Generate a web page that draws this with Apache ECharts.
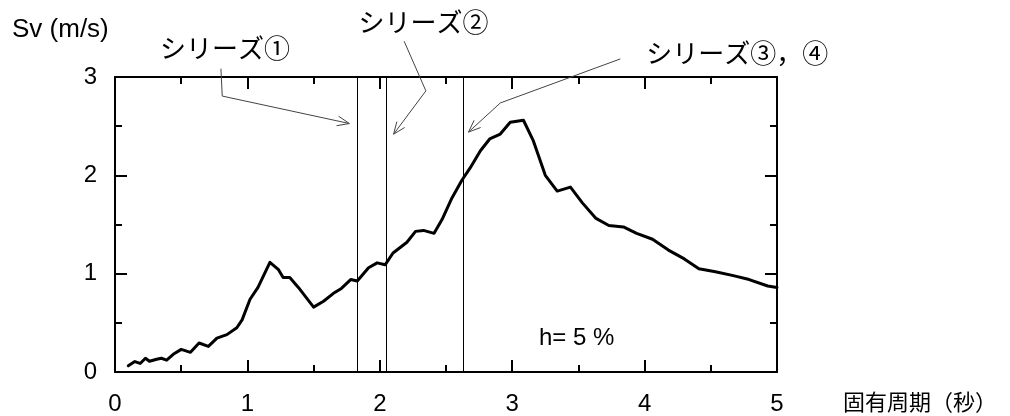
<!DOCTYPE html>
<html>
<head>
<meta charset="utf-8">
<script src="https://cdn.jsdelivr.net/npm/echarts@6/dist/echarts.min.js"></script>
<style>
html,body{margin:0;padding:0;background:#fff;}
#chart{width:1010px;height:416px;}
</style>
</head>
<body>
<div id="chart"></div>
<script>
// Natural period (s)
var periods = [0.10,0.15,0.19,0.23,0.26,0.315,0.35,0.39,0.44,0.50,0.57,0.635,0.705,0.77,0.845,0.92,0.96,1.02,1.08,1.17,1.235,1.27,1.32,1.385,1.50,1.575,1.65,1.71,1.78,1.83,1.915,1.98,2.04,2.10,2.205,2.27,2.33,2.41,2.47,2.545,2.62,2.68,2.76,2.83,2.91,2.985,3.085,3.16,3.25,3.34,3.44,3.53,3.63,3.73,3.84,3.94,4.06,4.18,4.30,4.41,4.535,4.67,4.79,4.93,5.00];
// Sv (m/s)
var sv = [0.063,0.106,0.087,0.14,0.11,0.13,0.14,0.12,0.18,0.23,0.20,0.295,0.26,0.345,0.38,0.45,0.53,0.74,0.86,1.115,1.04,0.96,0.96,0.86,0.66,0.72,0.80,0.85,0.94,0.925,1.06,1.11,1.09,1.21,1.32,1.43,1.44,1.41,1.55,1.77,1.95,2.07,2.25,2.37,2.42,2.54,2.56,2.35,2.00,1.84,1.88,1.72,1.565,1.49,1.475,1.41,1.35,1.24,1.15,1.05,1.02,0.98,0.94,0.875,0.86];
// Periods of the marked series
var markerPeriods = [1.83, 2.05, 2.63];
var xTickLabels = ['0','1','2','3','4','5'];
var yTickLabels = ['0','1','2','3'];
// Annotation labels and arrow paths (in data coordinates)
var annotationTexts = ['シリーズ①','シリーズ②','シリーズ③，④'];
var annotationPaths = [
  [[0.80,3.085],[0.81,2.806],[1.77,2.527]],
  [[2.184,3.363],[2.348,2.859],[2.104,2.418]],
  [[3.817,3.184],[2.91,2.736],[2.67,2.44]]
];
var annotationLabelPos = [[0.83,3.27],[2.33,3.53],[4.70,3.22]];

var latin = "'Liberation Sans', Arial, 'Noto Sans CJK JP', sans-serif";
var chart = echarts.init(document.getElementById('chart'), null, {renderer:'canvas'});

var data = periods.map(function(p,i){return [p, sv[i]];});

function frameAxis(extra){
  return Object.assign({
    axisLine:{show:true, onZero:false, lineStyle:{color:'#000', width:2}},
    axisTick:{show:true, inside:true, length:12, lineStyle:{color:'#000', width:2}},
    minorTick:{show:true, splitNumber:2, length:7, lineStyle:{color:'#000', width:2}},
    splitLine:{show:false},
    minorSplitLine:{show:false}
  }, extra);
}

var option = {
  backgroundColor:'#fff',
  animation:false,
  grid:{left:115, right:233, top:77, bottom:38},
  xAxis:[
    frameAxis({type:'value', min:0, max:5, interval:1, position:'bottom',
      axisLabel:{show:true, margin:20, fontSize:24, color:'#000', fontFamily:latin,
        formatter:function(v){return xTickLabels[Math.round(v)];}}}),
    frameAxis({type:'value', min:0, max:5, interval:1, position:'top', axisLabel:{show:false}})
  ],
  yAxis:[
    frameAxis({type:'value', min:0, max:3, interval:1, position:'left',
      axisLabel:{show:true, margin:18, fontSize:24, color:'#000', fontFamily:latin,
        formatter:function(v){return yTickLabels[Math.round(v)];}}}),
    frameAxis({type:'value', min:0, max:3, interval:1, position:'right', axisLabel:{show:false}})
  ],
  series:[
    {
      type:'line', data:data, xAxisIndex:0, yAxisIndex:0,
      showSymbol:false, symbol:'none',
      lineStyle:{color:'#000', width:3, join:'round', cap:'round'},
      z:3,
      markLine:{
        silent:true, symbol:['none','none'],
        label:{show:false},
        lineStyle:{color:'#000', width:1, type:'solid'},
        data:markerPeriods.map(function(p){return {xAxis:p};})
      }
    }
  ]
};
chart.setOption(option);

function toPx(d){ return chart.convertToPixel({xAxisIndex:0, yAxisIndex:0}, d); }

function arrowGraphics(){
  var g = [];
  annotationPaths.forEach(function(path, i){
    var pts = path.map(function(d){ return toPx(d); });
    g.push({type:'polyline', shape:{points:pts}, style:{stroke:'#444', lineWidth:1, fill:null}, z:10});
    var tip = pts[pts.length-1], prev = pts[pts.length-2];
    var ang = Math.atan2(prev[1]-tip[1], prev[0]-tip[0]);
    var L = 13, a = 22*Math.PI/180;
    g.push({type:'polyline', shape:{points:[
      [tip[0]+L*Math.cos(ang+a), tip[1]+L*Math.sin(ang+a)], tip,
      [tip[0]+L*Math.cos(ang-a), tip[1]+L*Math.sin(ang-a)]]},
      style:{stroke:'#444', lineWidth:1, fill:null}, z:10});
    var lp = toPx(annotationLabelPos[i]);
    g.push({type:'text', x:lp[0], y:lp[1], z:10,
      style:{text:annotationTexts[i], fontSize:26, fontFamily:latin, fill:'#000', align:'center', verticalAlign:'middle'}});
  });
  g.push({type:'text', left:12, top:17, style:{text:'Sv (m/s)', fontSize:26, fontFamily:latin, fill:'#000'}});
  g.push({type:'text', left:539, top:326, style:{text:'h= 5 %', fontSize:24, fontFamily:latin, fill:'#000'}});
  g.push({type:'text', left:843, top:391, style:{text:'固有周期（秒）', fontSize:22, fontFamily:"'Noto Sans CJK JP', sans-serif", fill:'#000'}});
  return g;
}
chart.setOption({graphic:arrowGraphics()});
</script>
</body>
</html>
